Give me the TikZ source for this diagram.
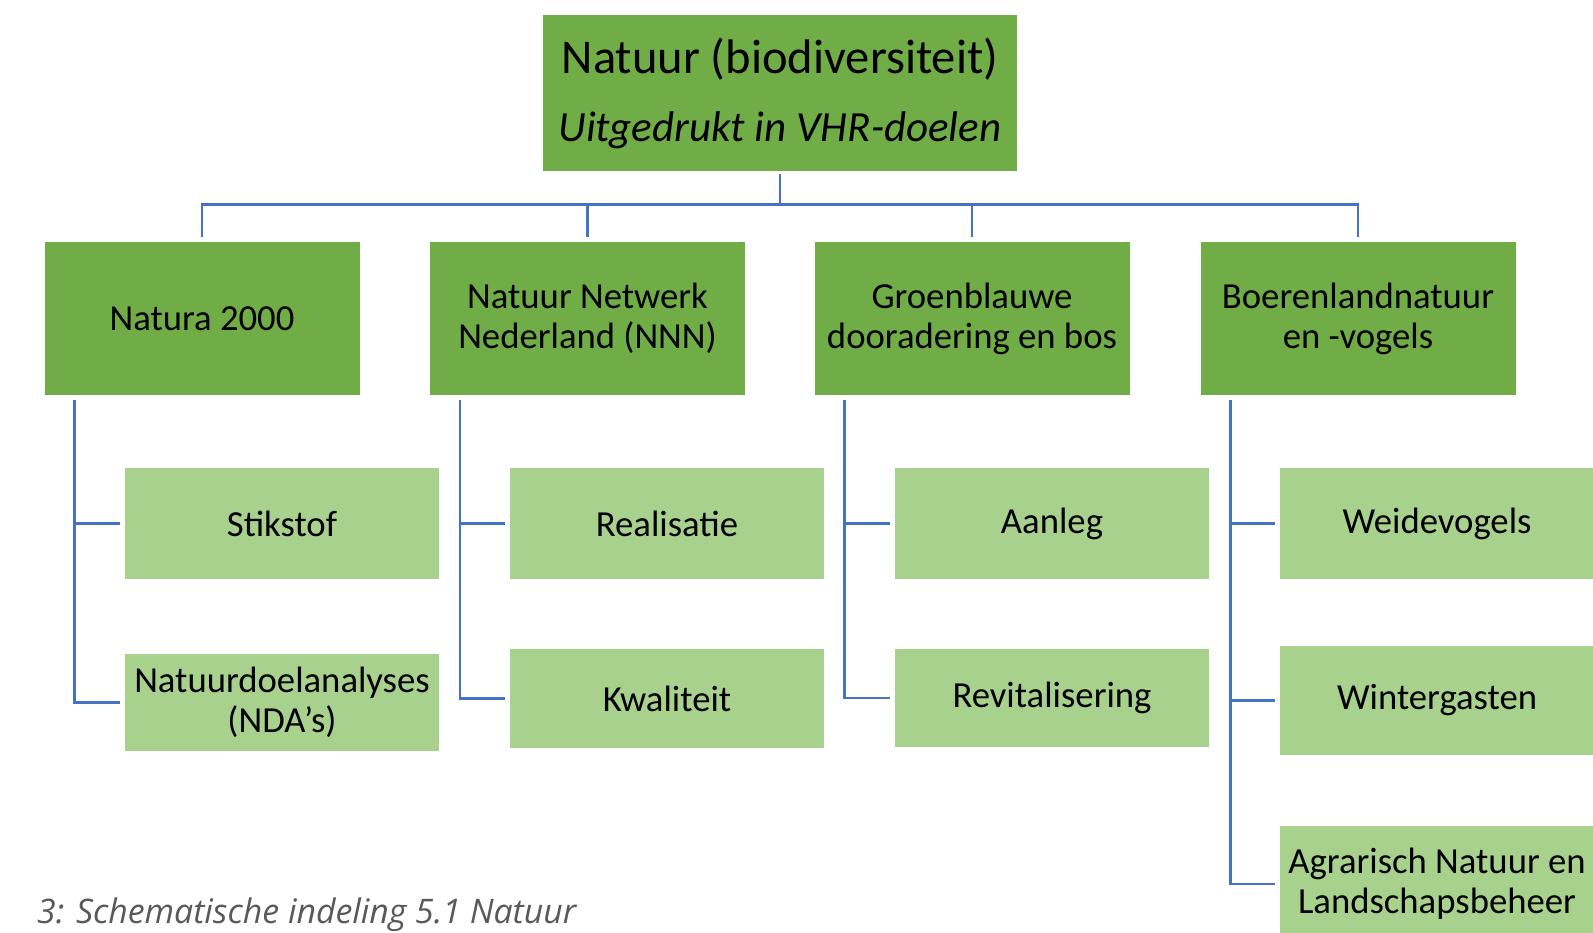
\documentclass[tikz,border=0pt]{standalone}
\usepackage{fontspec}
\setmainfont{Carlito}
\newfontfamily\capfont{Open Sans}
\usetikzlibrary{calc}
\definecolor{dkgreen}{HTML}{70AD47}
\definecolor{ltgreen}{HTML}{A9D18E}
\definecolor{lineblue}{HTML}{4472C4}
\definecolor{captgray}{HTML}{595959}
\tikzset{
  topbox/.style={fill=dkgreen, inner sep=0pt, minimum width=474pt, minimum height=156pt, align=center, text=black, font=\fontsize{48.5}{68}\selectfont},
  midbox/.style={fill=dkgreen, inner sep=0pt, minimum width=315pt, minimum height=153pt, align=center, text=black, font=\fontsize{36.7}{40}\selectfont},
  subbox/.style={fill=ltgreen, inner sep=0pt, minimum width=314pt, align=center, text=black, font=\fontsize{36.7}{40}\selectfont},
  conn/.style={draw=lineblue, line width=2.6pt},
}
\begin{document}
\begin{tikzpicture}[x=1pt,y=-1pt]
\useasboundingbox (0,0) rectangle (1593,932);
\clip (0,0) rectangle (1593,932);
% top
\node[topbox] (top) at (780,93) {Natuur (biodiversiteit)\\\fontsize{43}{68}\selectfont\itshape Uitgedrukt in VHR-doelen};
% level 2
\node[midbox] (n1) at (202,318.5) {Natura 2000};
\node[midbox] (n2) at (587.5,318.5) {Natuur Netwerk\\Nederland (NNN)};
\node[midbox] (n3) at (972,318.5) {Groenblauwe\\dooradering en bos};
\node[midbox] (n4) at (1358,318.5) {Boerenlandnatuur\\en -vogels};
% level 3
\node[subbox, minimum height=111pt] (s11) at (282,523.5) {Stikstof};
\node[subbox, minimum height=97pt] (s12) at (282,702.5) {Natuurdoelanalyses\\(NDA's)};
\node[subbox, minimum height=111pt] (s21) at (667,523.5) {Realisatie};
\node[subbox, minimum height=99pt] (s22) at (667,698.5) {Kwaliteit};
\node[subbox, minimum height=111pt] (s31) at (1052,523.5) {Aanleg};
\node[subbox, minimum height=98pt] (s32) at (1052,698) {Revitalisering};
\node[subbox, minimum height=111pt] (s41) at (1437,523.5) {Weidevogels};
\node[subbox, minimum height=109pt] (s42) at (1437,700.5) {Wintergasten};
\node[subbox, minimum height=116pt] (s43) at (1437,884) {Agrarisch Natuur en\\Landschapsbeheer};
% connectors top level
\draw[conn, shorten <=3pt] (top.south) -- ++(0,33) coordinate (bus);
\foreach \n in {n1,n2,n3,n4} {
  \draw[conn, shorten >=5pt] (bus) -| (\n.north);
}
% connectors to level 3
\foreach \p/\last/\others in {n1/s12/{s11}, n2/s22/{s21}, n3/s32/{s31}, n4/s43/{s41,s42}} {
  \coordinate (v) at ([xshift=30pt,yshift=-5pt]\p.south west);
  \draw[conn, shorten >=5pt] (v) |- (\last.west);
  \foreach \c in \others {
    \draw[conn, shorten >=5pt] (v |- \c.west) -- (\c.west);
  }
}
% caption
\node[anchor=base west, inner sep=0pt, text=captgray] (cap) at (37,923) {\resizebox{539pt}{!}{\capfont\itshape 3: Schematische indeling 5.1 Natuur}};
\end{tikzpicture}
\end{document}
